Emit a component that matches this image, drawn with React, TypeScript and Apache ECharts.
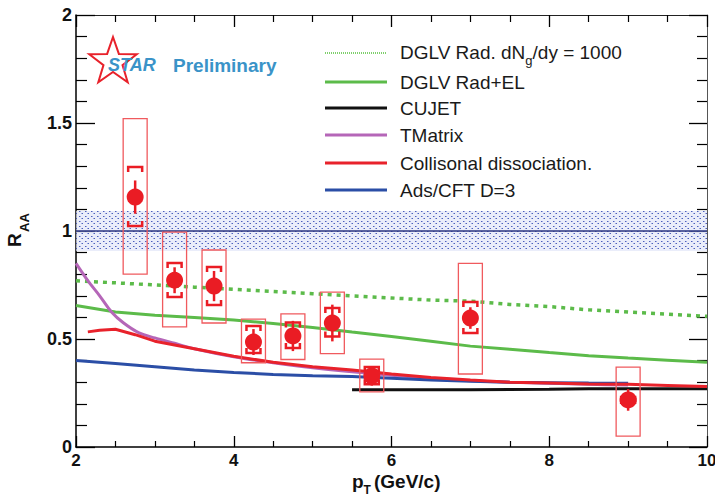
import React, { useEffect, useRef } from "react";
import * as echarts from "echarts";

// ---- measured data (STAR D0 RAA) ----
const ptValues = [2.75, 3.25, 3.75, 4.25, 4.75, 5.25, 5.75, 7.0, 9.0];
const raaValues = [1.157, 0.772, 0.745, 0.486, 0.514, 0.574, 0.329, 0.597, 0.218];
const statErr = [0.077, 0.06, 0.07, 0.06, 0.07, 0.085, 0.045, 0.05, 0.05];
const sysLow = [1.023, 0.694, 0.657, 0.435, 0.458, 0.512, 0.29, 0.528, 0.205];
const sysHigh = [1.296, 0.852, 0.833, 0.56, 0.576, 0.643, 0.37, 0.671, 0.232];
const boxLow = [0.8, 0.556, 0.574, 0.39, 0.405, 0.432, 0.255, 0.338, 0.05];
const boxHigh = [1.52, 0.995, 0.912, 0.592, 0.616, 0.717, 0.407, 0.85, 0.37];

// ---- model curves ----
const dglvRadX = [2, 2.5, 3, 3.5, 4, 4.5, 5, 5.5, 6, 6.5, 7, 7.5, 8, 8.5, 9, 9.5, 10];
const dglvRadY = [0.77, 0.76, 0.75, 0.74, 0.73, 0.72, 0.71, 0.7, 0.69, 0.68, 0.675, 0.66, 0.65, 0.635, 0.625, 0.615, 0.605];
const dglvElX = [2, 2.5, 3, 3.5, 4, 4.5, 5, 5.5, 6, 6.5, 7, 7.5, 8, 8.5, 9, 9.5, 10];
const dglvElY = [0.655, 0.625, 0.61, 0.6, 0.588, 0.572, 0.553, 0.532, 0.512, 0.49, 0.467, 0.452, 0.437, 0.423, 0.412, 0.402, 0.392];
const cujetX = [5.5, 6, 7, 8, 8.5, 9, 10];
const cujetY = [0.265, 0.265, 0.265, 0.267, 0.27, 0.27, 0.27];
const tmatrixX = [2, 2.15, 2.3, 2.45, 2.6, 2.8, 3, 3.25, 3.5, 4, 4.5, 5, 5.5, 6, 6.5, 7, 7.5, 8, 8.5, 9];
const tmatrixY = [0.85, 0.77, 0.7, 0.625, 0.575, 0.528, 0.505, 0.48, 0.455, 0.418, 0.39, 0.367, 0.348, 0.332, 0.318, 0.307, 0.3, 0.295, 0.29, 0.287];
const collX = [2.15, 2.3, 2.5, 2.75, 3, 3.5, 4, 4.5, 5, 5.5, 6, 6.5, 7, 7.5, 8, 8.5, 9, 9.5, 10];
const collY = [0.533, 0.54, 0.545, 0.52, 0.49, 0.455, 0.42, 0.392, 0.372, 0.357, 0.338, 0.322, 0.31, 0.3, 0.296, 0.292, 0.29, 0.285, 0.28];
const adsX = [2, 2.5, 3, 3.5, 4, 4.5, 5, 5.5, 6, 6.5, 7, 7.5, 8, 8.5, 9];
const adsY = [0.4, 0.387, 0.372, 0.357, 0.345, 0.336, 0.33, 0.326, 0.318, 0.31, 0.304, 0.3, 0.298, 0.296, 0.295];

const bandLow = 0.907;
const bandHigh = 1.093;

const legendNames = [
  "DGLV Rad. dN|g|/dy = 1000",
  "DGLV Rad+EL",
  "CUJET",
  "TMatrix",
  "Collisonal dissociation.",
  "Ads/CFT D=3",
];

const FONT = '"Liberation Sans", Arial, Helvetica, sans-serif';
const GREEN = "#5cbb4a";
const RED = "#e8222b";
const BLUE = "#2b4ea6";
const PURPLE = "#b566b8";
const BLACK = "#111111";
const DATA_RED = "#ea1c24";

const pairs = (xs: number[], ys: number[]) => xs.map((x, i) => [x, ys[i]]);

function makePattern(): HTMLCanvasElement {
  const c = document.createElement("canvas");
  c.width = 6;
  c.height = 5;
  const ctx = c.getContext("2d")!;
  ctx.fillStyle = "rgba(222,228,248,0.65)";
  ctx.fillRect(0, 0, 6, 5);
  ctx.fillStyle = "rgba(60,80,180,0.9)";
  ctx.fillRect(1, 1, 1, 1);
  ctx.fillRect(4, 3, 1, 1);
  ctx.fillStyle = "rgba(80,100,200,0.5)";
  ctx.fillRect(2, 1, 1, 1);
  ctx.fillRect(3, 3, 1, 1);
  return c;
}

function measure(text: string, size: number, weight = "normal"): number {
  const c = document.createElement("canvas");
  const ctx = c.getContext("2d")!;
  ctx.font = `${weight} ${size}px ${FONT}`;
  return ctx.measureText(text).width;
}

export default function App() {
  const ref = useRef<HTMLDivElement>(null);

  useEffect(() => {
    if (!ref.current) return;
    const chart = echarts.init(ref.current, undefined, { renderer: "svg" });

    const errData = ptValues.map((x, i) => [
      x, raaValues[i], statErr[i], sysLow[i], sysHigh[i], boxLow[i], boxHigh[i],
    ]);

    const lineColors = [GREEN, GREEN, BLACK, PURPLE, RED, BLUE];
    const rowY = [52, 82, 108, 135, 163, 190];
    const legendFont = 19;
    const legendEls: any[] = [];
    legendNames.forEach((name, i) => {
      const y = rowY[i];
      legendEls.push({
        type: "line",
        shape: { x1: 325, y1: i === 0 ? y + 1 : y, x2: 387, y2: i === 0 ? y + 1 : y },
        style: i === 0
          ? { stroke: "#7fcf6c", lineWidth: 2, lineDash: [1, 1] }
          : { stroke: lineColors[i], lineWidth: 3 },
      });
      if (name.includes("|")) {
        const [a, s, b] = name.split("|");
        const wa = measure(a, legendFont);
        const ws = measure(s, 13);
        legendEls.push({ type: "text", x: 400, y, style: { text: a, font: `${legendFont}px ${FONT}`, fill: "#1a1a1a", verticalAlign: "middle" } });
        legendEls.push({ type: "text", x: 400 + wa, y: y + 8, style: { text: s, font: `13px ${FONT}`, fill: "#1a1a1a", verticalAlign: "middle" } });
        legendEls.push({ type: "text", x: 400 + wa + ws, y, style: { text: b, font: `${legendFont}px ${FONT}`, fill: "#1a1a1a", verticalAlign: "middle" } });
      } else {
        legendEls.push({ type: "text", x: 400, y, style: { text: name, font: `${legendFont}px ${FONT}`, fill: "#1a1a1a", verticalAlign: "middle" } });
      }
    });

    // star logo
    const cx = 113, cy = 62, R = 25, r = 10;
    const starPts: number[][] = [];
    for (let k = 0; k < 10; k++) {
      const ang = -Math.PI / 2 + (k * Math.PI) / 5;
      const rad = k % 2 === 0 ? R : r;
      starPts.push([cx + rad * Math.cos(ang), cy + rad * Math.sin(ang)]);
    }

    const pW = measure("p", 19, "bold");

    const option: any = {
      animation: false,
      backgroundColor: "#ffffff",
      grid: { left: 76, right: 8, top: 15, bottom: 50, containLabel: false, outerBoundsMode: "none" },
      xAxis: [
        {
          type: "value", min: 2, max: 10, interval: 2, position: "bottom",
          axisLine: { show: true, onZero: false, lineStyle: { color: "#000", width: 1.5 } },
          axisTick: { show: true, inside: true, length: 11, lineStyle: { color: "#000", width: 1.3 } },
          minorTick: { show: true, splitNumber: 4, length: 6, lineStyle: { color: "#000", width: 1.2 } },
          splitLine: { show: false },
          axisLabel: { fontSize: 17, fontWeight: "bold", color: "#111", margin: 5, fontFamily: FONT },
        },
        {
          type: "value", min: 2, max: 10, interval: 2, position: "top",
          axisLine: { show: true, onZero: false, lineStyle: { color: "#222", width: 1 } },
          axisTick: { show: true, inside: true, length: 12, lineStyle: { color: "#000", width: 1.3 } },
          minorTick: { show: true, splitNumber: 4, length: 7, lineStyle: { color: "#000", width: 1.2 } },
          splitLine: { show: false },
          axisLabel: { show: false },
        },
      ],
      yAxis: [
        {
          type: "value", min: 0, max: 2, interval: 0.5, position: "left",
          axisLine: { show: true, onZero: false, lineStyle: { color: "#000", width: 1.5 } },
          axisTick: { show: true, inside: true, length: 19, lineStyle: { color: "#000", width: 1.3 } },
          minorTick: { show: true, splitNumber: 5, length: 11, lineStyle: { color: "#000", width: 1.2 } },
          splitLine: { show: false },
          axisLabel: { fontSize: 18, fontWeight: "bold", color: "#111", margin: 4, fontFamily: FONT, formatter: (v: number) => String(v) },
        },
        {
          type: "value", min: 0, max: 2, interval: 0.5, position: "right",
          axisLine: { show: true, onZero: false, lineStyle: { color: "#555", width: 1 } },
          axisTick: { show: true, inside: true, length: 18, lineStyle: { color: "#000", width: 1.3 } },
          minorTick: { show: true, splitNumber: 5, length: 10, lineStyle: { color: "#000", width: 1.2 } },
          splitLine: { show: false },
          axisLabel: { show: false },
        },
      ],
      series: [
        {
          name: "norm", type: "line", data: [[2, 1], [10, 1]], showSymbol: false, z: 1,
          lineStyle: { color: "#2a3580", width: 1.3 },
          markArea: {
            silent: true,
            itemStyle: { color: { image: makePattern(), repeat: "repeat" } },
            data: [[{ yAxis: bandLow }, { yAxis: bandHigh }]],
          },
        },
        {
          name: "DGLV Rad. dNg/dy = 1000", type: "line", data: pairs(dglvRadX, dglvRadY), showSymbol: false, z: 3,
          lineStyle: { color: GREEN, width: 3.5, type: [4, 5] },
        },
        {
          name: "DGLV Rad+EL", type: "line", data: pairs(dglvElX, dglvElY), showSymbol: false, z: 3,
          lineStyle: { color: GREEN, width: 3 },
        },
        {
          name: "CUJET", type: "line", data: pairs(cujetX, cujetY), showSymbol: false, z: 3,
          lineStyle: { color: BLACK, width: 3 },
        },
        {
          name: "TMatrix", type: "line", data: pairs(tmatrixX, tmatrixY), showSymbol: false, z: 3, smooth: 0.3,
          lineStyle: { color: PURPLE, width: 3 },
        },
        {
          name: "Collisonal dissociation.", type: "line", data: pairs(collX, collY), showSymbol: false, z: 4,
          lineStyle: { color: RED, width: 3 },
        },
        {
          name: "Ads/CFT D=3", type: "line", data: pairs(adsX, adsY), showSymbol: false, z: 3,
          lineStyle: { color: BLUE, width: 3 },
        },
        {
          name: "errors", type: "custom", z: 5, data: errData,
          renderItem: (_p: any, api: any) => {
            const x = api.value(0), y = api.value(1), e = api.value(2);
            const sl = api.value(3), sh = api.value(4), bl = api.value(5), bh = api.value(6);
            const b0 = api.coord([x - 0.152, bh]);
            const b1 = api.coord([x + 0.152, bl]);
            const c = api.coord([x, y]);
            const et = api.coord([x, y + e]);
            const eb = api.coord([x, y - e]);
            const st = api.coord([x, sh]);
            const sb = api.coord([x, sl]);
            const hw = 7, cap = 5;
            return {
              type: "group",
              children: [
                {
                  type: "rect",
                  shape: { x: b0[0], y: b0[1], width: b1[0] - b0[0], height: b1[1] - b0[1] },
                  style: { fill: "none", stroke: "#f05a5e", lineWidth: 1.3 },
                },
                {
                  type: "line",
                  shape: { x1: c[0], y1: et[1], x2: c[0], y2: eb[1] },
                  style: { stroke: DATA_RED, lineWidth: 2.5 },
                },
                {
                  type: "polyline",
                  shape: { points: [[c[0] - hw, st[1] + cap], [c[0] - hw, st[1]], [c[0] + hw, st[1]], [c[0] + hw, st[1] + cap]] },
                  style: { fill: "none", stroke: DATA_RED, lineWidth: 2.5 },
                },
                {
                  type: "polyline",
                  shape: { points: [[c[0] - hw, sb[1] - cap], [c[0] - hw, sb[1]], [c[0] + hw, sb[1]], [c[0] + hw, sb[1] - cap]] },
                  style: { fill: "none", stroke: DATA_RED, lineWidth: 2.5 },
                },
              ],
            };
          },
        },
        {
          name: "STAR data", type: "scatter", z: 6, symbol: "circle", symbolSize: 17,
          data: pairs(ptValues, raaValues),
          itemStyle: { color: DATA_RED, opacity: 1 },
        },
      ],
      graphic: [
        { type: "polygon", shape: { points: starPts }, style: { fill: "none", stroke: "#e8222b", lineWidth: 2 }, z: 10 },
        { type: "text", x: 108, y: 65, z: 11, style: { text: "STAR", font: `italic bold 18px ${FONT}`, fill: "#3a93c8", verticalAlign: "middle" } },
        { type: "text", x: 173, y: 65, z: 11, style: { text: "Preliminary", font: `bold 19px ${FONT}`, fill: "#3a93c8", verticalAlign: "middle" } },
        ...legendEls.map((e) => ({ ...e, z: 10 })),
        // axis titles
        { type: "text", x: 352, y: 481, z: 10, style: { text: "p", font: `bold 19px ${FONT}`, fill: "#111", verticalAlign: "middle" } },
        { type: "text", x: 352 + pW, y: 490, z: 10, style: { text: "T", font: `bold 12px ${FONT}`, fill: "#111", verticalAlign: "middle" } },
        { type: "text", x: 374, y: 481, z: 10, style: { text: "(GeV/c)", font: `bold 19px ${FONT}`, fill: "#111", verticalAlign: "middle" } },
        { type: "text", x: 24, y: 247, rotation: Math.PI / 2, z: 10, style: { text: "R", font: `bold 19px ${FONT}`, fill: "#111", verticalAlign: "bottom", align: "left" } },
        { type: "text", x: 31, y: 232, rotation: Math.PI / 2, z: 10, style: { text: "AA", font: `bold 13px ${FONT}`, fill: "#111", verticalAlign: "bottom", align: "left" } },
      ],
    };

    chart.setOption(option);
    return () => chart.dispose();
  }, []);

  return (
    <div
      ref={ref}
      style={{ position: "absolute", left: 0, top: 0, width: 715, height: 497 }}
    />
  );
}
